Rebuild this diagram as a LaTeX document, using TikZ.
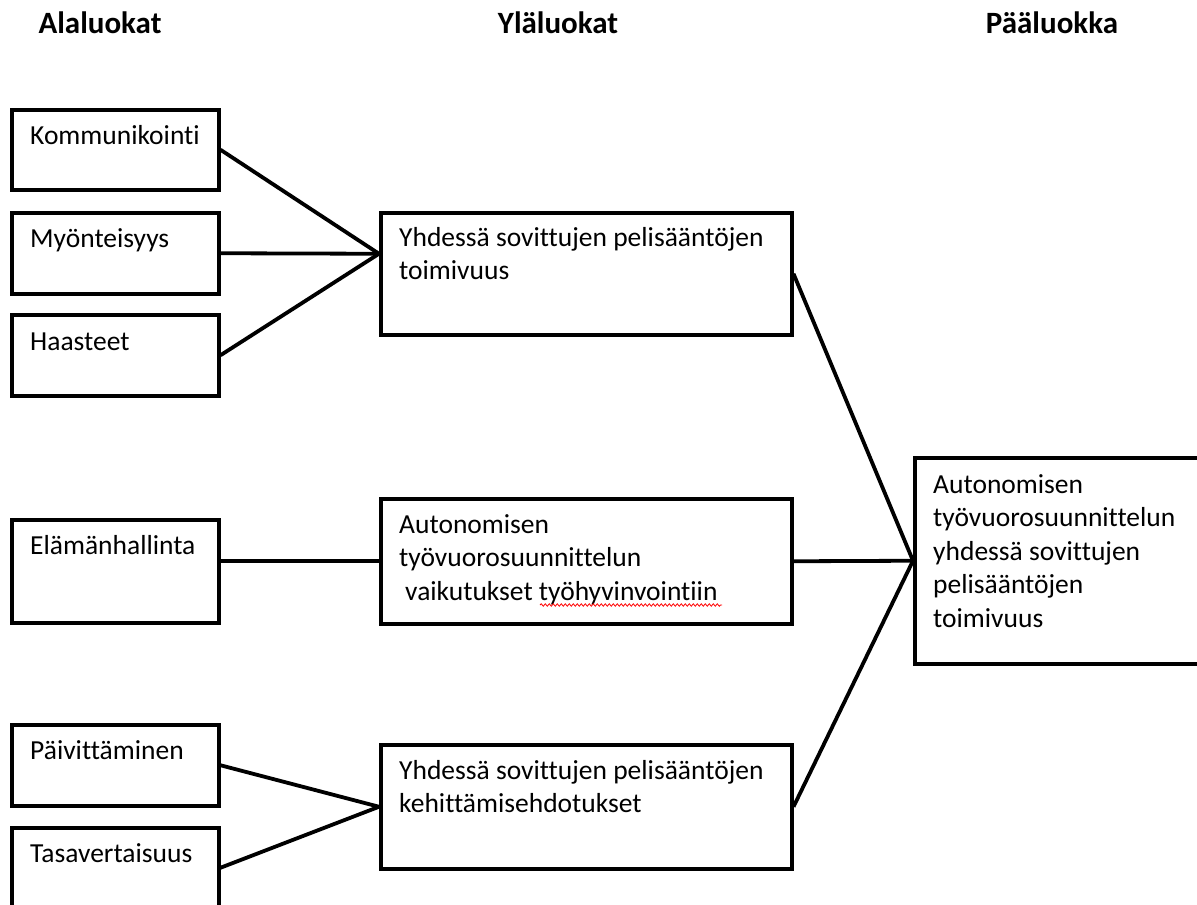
\documentclass[tikz,border=0pt]{standalone}
\usepackage{fontspec}
\setmainfont[Ligatures={NoCommon}]{Carlito}
\usetikzlibrary{decorations.pathmorphing}
\newcommand{\toptext}[1]{\parbox[t]{400pt}{\raggedright #1}}
\begin{document}
\begin{tikzpicture}[x=1pt,y=-1pt,
  box/.style={draw, line width=3.5pt, anchor=north west, inner sep=0pt},
  txt/.style={anchor=base west, inner sep=0pt, font=\fontsize{27.5}{33.5}\selectfont},
  hdr/.style={anchor=base, inner sep=0pt, font=\bfseries\fontsize{31}{34}\selectfont},
  conn/.style={line width=3.8pt}]
\useasboundingbox (0,0) rectangle (1197,905);
\clip (0,0) rectangle (1197,905);
% headers
\node[hdr] (h1) at (100,33) {Alaluokat};
\node[hdr] (h2) at (558,33) {Yläluokat};
\node[hdr] (h3) at (1052,33) {Pääluokka};
% left boxes
\node[box, minimum width=207pt, minimum height=80pt] (k) at (10,108) {};
\node[box, minimum width=207pt, minimum height=81pt] (m) at (10,211) {};
\node[box, minimum width=207pt, minimum height=81pt] (h) at (10,313) {};
\node[box, minimum width=207pt, minimum height=103pt] (e) at (10,518) {};
\node[box, minimum width=207pt, minimum height=81pt] (p) at (10,723) {};
\node[box, minimum width=207pt, minimum height=84pt] (t) at (10,826) {};
\node[txt] (tk) at (30,144) {Kommunikointi};
\node[txt] (tm) at (30,247) {Myönteisyys};
\node[txt] (th) at (30,350) {Haasteet};
\node[txt] (te) at (30,554) {Elämänhallinta};
\node[txt] (tp) at (30,759) {Päivittäminen};
\node[txt] (tt) at (30,862) {Tasavertaisuus};
% middle boxes
\node[box, minimum width=411pt, minimum height=122pt] (b1) at (379,211) {};
\node[box, minimum width=411pt, minimum height=125pt] (b2) at (379,497) {};
\node[box, minimum width=411pt, minimum height=124pt] (b3) at (379,743) {};
\node[txt] (t1) at (399,246) {\toptext{Yhdessä sovittujen pelisääntöjen\\toimivuus}};
\node[txt] (t2) at (399,533) {\toptext{Autonomisen\\työvuorosuunnittelun\\\hspace*{6pt}vaikutukset työhyvinvointiin}};
\node[txt] (t3) at (399,779) {\toptext{Yhdessä sovittujen pelisääntöjen\\kehittämisehdotukset}};
\draw[red, line width=0.8pt, decorate, decoration={snake, amplitude=1.2pt, segment length=4pt}] (540,605) -- (722,605);
% right box
\node[box, minimum width=300pt, minimum height=206pt] (r) at (913,456) {};
\node[txt] (tr) at (933,493) {\toptext{Autonomisen\\työvuorosuunnittelun\\yhdessä sovittujen\\pelisääntöjen\\toimivuus}};
% connectors
\coordinate (c1) at ([yshift=20pt]b1.west);
\draw[conn] (k.east) -- (c1);
\draw[conn] (m.east) -- (c1);
\draw[conn] (h.east) -- (c1);
\draw[conn] (e.east |- b2.west) -- (b2.west);
\draw[conn] (p.east) -- (b3.west);
\draw[conn] ([yshift=2pt]t.east) -- (b3.west);
\draw[conn] (b1.east) -- (r.west);
\draw[conn] (b2.east) -- (r.west);
\draw[conn] (b3.east) -- (r.west);
\end{tikzpicture}
\end{document}
